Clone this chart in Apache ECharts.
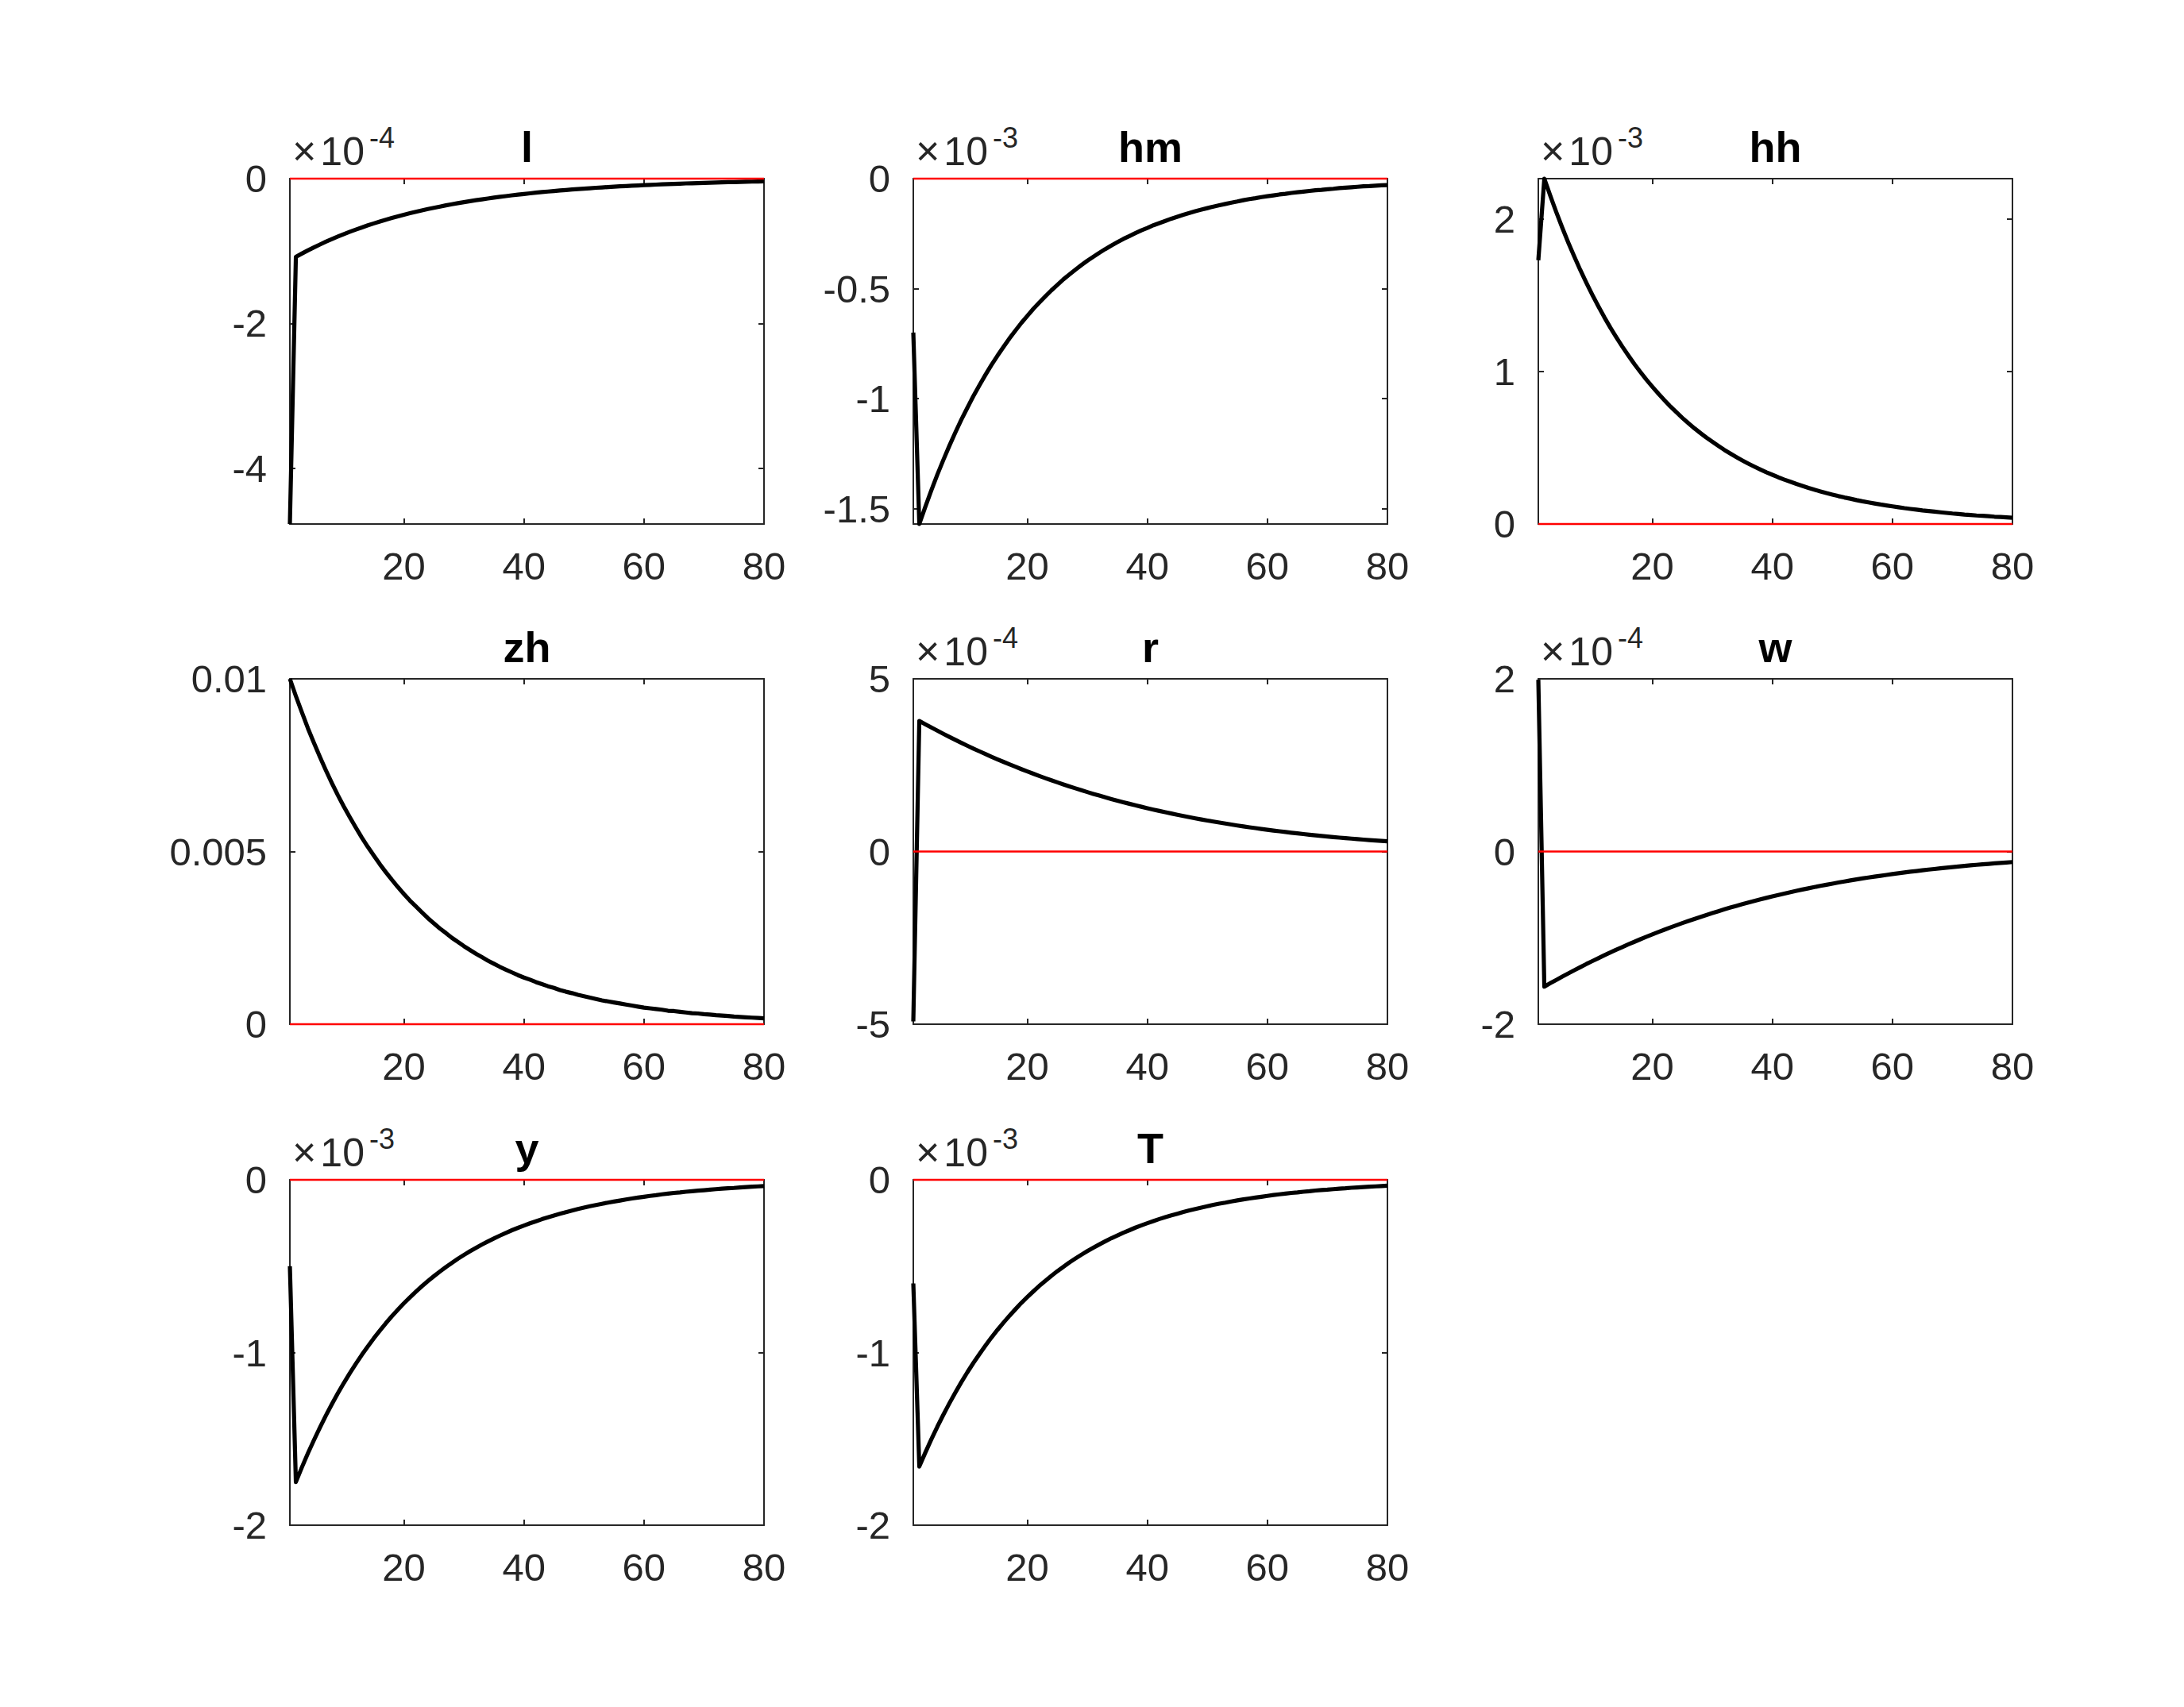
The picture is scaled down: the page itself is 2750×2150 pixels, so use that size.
<!DOCTYPE html>
<html><head><meta charset="utf-8">
<script src="https://cdn.jsdelivr.net/npm/echarts@6/dist/echarts.min.js"></script>
<style>html,body{margin:0;padding:0;background:#fff}#c{width:2750px;height:2150px}</style>
</head><body><div id="c"></div>
<script>
// periods 1..80
const periods = Array.from({length: 80}, (_, i) => i + 1);
const titles = ['l', 'hm', 'hh', 'zh', 'r', 'w', 'y', 'T'];
const exponents = ['-4', '-3', '-3', '', '-4', '-4', '-3', '-3'];

// values in the panel's displayed units (×10^exponent)
const l_irf = [-4.77,
-1.080,-1.035,-0.991,-0.950,-0.910,-0.871,-0.835,-0.800,-0.766,-0.734,
-0.703,-0.674,-0.645,-0.618,-0.592,-0.567,-0.544,-0.521,-0.499,-0.478,
-0.458,-0.439,-0.420,-0.403,-0.386,-0.369,-0.354,-0.339,-0.325,-0.311,
-0.298,-0.286,-0.274,-0.262,-0.251,-0.241,-0.230,-0.221,-0.212,-0.203,
-0.194,-0.186,-0.178,-0.171,-0.163,-0.157,-0.150,-0.144,-0.138,-0.132,
-0.126,-0.121,-0.116,-0.111,-0.106,-0.102,-0.098,-0.094,-0.090,-0.086,
-0.082,-0.079,-0.076,-0.072,-0.069,-0.066,-0.064,-0.061,-0.058,-0.056,
-0.054,-0.051,-0.049,-0.047,-0.045,-0.043,-0.041,-0.040,-0.038];
const hm_irf = [-0.70,
-1.570,-1.492,-1.417,-1.346,-1.279,-1.215,-1.154,-1.096,-1.042,-0.989,
-0.940,-0.893,-0.848,-0.806,-0.766,-0.727,-0.691,-0.656,-0.624,-0.592,
-0.563,-0.535,-0.508,-0.483,-0.458,-0.436,-0.414,-0.393,-0.373,-0.355,
-0.337,-0.320,-0.304,-0.289,-0.274,-0.261,-0.248,-0.235,-0.224,-0.212,
-0.202,-0.192,-0.182,-0.173,-0.164,-0.156,-0.148,-0.141,-0.134,-0.127,
-0.121,-0.115,-0.109,-0.104,-0.098,-0.093,-0.089,-0.084,-0.080,-0.076,
-0.072,-0.069,-0.065,-0.062,-0.059,-0.056,-0.053,-0.051,-0.048,-0.046,
-0.043,-0.041,-0.039,-0.037,-0.035,-0.034,-0.032,-0.030,-0.029];
const hh_irf = [1.73,
2.265,2.152,2.044,1.942,1.845,1.753,1.665,1.582,1.503,1.428,
1.356,1.288,1.224,1.163,1.105,1.049,0.997,0.947,0.900,0.855,
0.812,0.771,0.733,0.696,0.661,0.628,0.597,0.567,0.539,0.512,
0.486,0.462,0.439,0.417,0.396,0.376,0.357,0.339,0.323,0.306,
0.291,0.277,0.263,0.250,0.237,0.225,0.214,0.203,0.193,0.183,
0.174,0.166,0.157,0.149,0.142,0.135,0.128,0.122,0.116,0.110,
0.104,0.099,0.094,0.089,0.085,0.081,0.077,0.073,0.069,0.066,
0.062,0.059,0.056,0.054,0.051,0.048,0.046,0.044,0.041];
const zh_irf = [
0.01000,0.00950,0.00903,0.00857,0.00815,0.00774,0.00735,0.00698,0.00663,0.00630,
0.00599,0.00569,0.00540,0.00513,0.00488,0.00463,0.00440,0.00418,0.00397,0.00377,
0.00358,0.00341,0.00324,0.00307,0.00292,0.00277,0.00264,0.00250,0.00238,0.00226,
0.00215,0.00204,0.00194,0.00184,0.00175,0.00166,0.00158,0.00150,0.00142,0.00135,
0.00129,0.00122,0.00116,0.00110,0.00105,0.00099,0.00094,0.00090,0.00085,0.00081,
0.00077,0.00073,0.00069,0.00066,0.00063,0.00060,0.00057,0.00054,0.00051,0.00048,
0.00046,0.00044,0.00042,0.00039,0.00038,0.00036,0.00034,0.00032,0.00031,0.00029,
0.00028,0.00026,0.00025,0.00024,0.00022,0.00021,0.00020,0.00019,0.00018,0.00017];
const r_irf = [-4.92,
3.780,3.684,3.591,3.499,3.408,3.320,3.233,3.148,3.064,2.982,
2.902,2.824,2.747,2.671,2.598,2.525,2.455,2.386,2.318,2.252,
2.187,2.124,2.062,2.002,1.943,1.886,1.830,1.775,1.721,1.669,
1.618,1.569,1.520,1.473,1.427,1.382,1.339,1.296,1.255,1.214,
1.175,1.137,1.100,1.064,1.029,0.995,0.961,0.929,0.898,0.867,
0.838,0.809,0.781,0.754,0.728,0.702,0.678,0.654,0.631,0.608,
0.586,0.565,0.545,0.525,0.506,0.487,0.469,0.452,0.435,0.418,
0.403,0.387,0.373,0.359,0.345,0.331,0.319,0.306,0.294];
const w_irf = [1.99,
-1.565,-1.525,-1.487,-1.449,-1.411,-1.375,-1.339,-1.303,-1.269,-1.235,
-1.202,-1.169,-1.137,-1.106,-1.075,-1.046,-1.016,-0.988,-0.960,-0.932,
-0.906,-0.879,-0.854,-0.829,-0.805,-0.781,-0.758,-0.735,-0.713,-0.691,
-0.670,-0.649,-0.629,-0.610,-0.591,-0.572,-0.554,-0.537,-0.520,-0.503,
-0.487,-0.471,-0.455,-0.440,-0.426,-0.412,-0.398,-0.385,-0.372,-0.359,
-0.347,-0.335,-0.323,-0.312,-0.301,-0.291,-0.281,-0.271,-0.261,-0.252,
-0.243,-0.234,-0.226,-0.217,-0.209,-0.202,-0.194,-0.187,-0.180,-0.173,
-0.167,-0.160,-0.154,-0.148,-0.143,-0.137,-0.132,-0.127,-0.122];
const y_irf = [-0.50,
-1.750,-1.665,-1.584,-1.508,-1.435,-1.365,-1.299,-1.236,-1.176,-1.119,
-1.065,-1.013,-0.964,-0.917,-0.873,-0.830,-0.790,-0.752,-0.715,-0.681,
-0.648,-0.616,-0.586,-0.558,-0.531,-0.505,-0.481,-0.457,-0.435,-0.414,
-0.394,-0.375,-0.357,-0.340,-0.323,-0.307,-0.292,-0.278,-0.265,-0.252,
-0.240,-0.228,-0.217,-0.207,-0.197,-0.187,-0.178,-0.169,-0.161,-0.153,
-0.146,-0.139,-0.132,-0.126,-0.120,-0.114,-0.108,-0.103,-0.098,-0.093,
-0.089,-0.084,-0.080,-0.076,-0.073,-0.069,-0.066,-0.063,-0.060,-0.057,
-0.054,-0.051,-0.049,-0.047,-0.044,-0.042,-0.040,-0.038,-0.036];
const T_irf = [-0.60,
-1.660,-1.580,-1.503,-1.430,-1.361,-1.295,-1.232,-1.172,-1.115,-1.061,
-1.010,-0.961,-0.914,-0.870,-0.828,-0.788,-0.750,-0.713,-0.679,-0.646,
-0.614,-0.585,-0.556,-0.529,-0.504,-0.479,-0.456,-0.434,-0.413,-0.393,
-0.374,-0.356,-0.338,-0.322,-0.306,-0.292,-0.277,-0.264,-0.251,-0.239,
-0.227,-0.216,-0.206,-0.196,-0.186,-0.177,-0.169,-0.161,-0.153,-0.145,
-0.138,-0.132,-0.125,-0.119,-0.113,-0.108,-0.103,-0.098,-0.093,-0.088,
-0.084,-0.080,-0.076,-0.073,-0.069,-0.066,-0.062,-0.059,-0.057,-0.054,
-0.051,-0.049,-0.046,-0.044,-0.042,-0.040,-0.038,-0.036,-0.034];
const zeroLine = [0, 0];

const yMin = [-4.77, -1.57, 0, 0, -5, -2, -2, -2];
const yMax = [0, 0, 2.265, 0.01, 5, 2, 0, 0];
const yTicks = [[-4,-2,0],[-1.5,-1,-0.5,0],[0,1,2],[0,0.005,0.01],[-5,0,5],[-2,0,2],[-2,-1,0],[-2,-1,0]];
const yTickLabels = [['-4','-2','0'],['-1.5','-1','-0.5','0'],['0','1','2'],['0','0.005','0.01'],['-5','0','5'],['-2','0','2'],['-2','-1','0'],['-2','-1','0']];
const xTicks = [20, 40, 60, 80];
const xTickLabels = ['20', '40', '60', '80'];

const allSeries = [l_irf, hm_irf, hh_irf, zh_irf, r_irf, w_irf, y_irf, T_irf];

// layout
const colLeft = [365, 1150, 1937];
const rowTop = [225, 855, 1486];
const W = 597, H = 435;
const FONT = 'Liberation Sans';
const AX = '#262626';

const grid = [], xAxis = [], yAxis = [], series = [], title = [];
allSeries.forEach((vals, i) => {
  const r = Math.floor(i / 3), c = i % 3;
  grid.push({left: colLeft[c], top: rowTop[r], width: W, height: H, show: false, containLabel: false});
  const lineStyle = {color: AX, width: 2};
  const tickStyle = {color: AX, width: 2};
  xAxis.push({type: 'value', gridIndex: i, min: 1, max: 80, position: 'bottom',
    axisLine: {show: true, onZero: false, lineStyle},
    axisTick: {show: true, inside: true, length: 7, customValues: xTicks, lineStyle: tickStyle},
    axisLabel: {show: true, customValues: xTicks, margin: 28, fontSize: 49, fontFamily: FONT, color: AX,
      formatter: v => xTickLabels[xTicks.indexOf(v)]},
    splitLine: {show: false}});
  xAxis.push({type: 'value', gridIndex: i, min: 1, max: 80, position: 'top',
    axisLine: {show: true, onZero: false, lineStyle},
    axisTick: {show: true, inside: true, length: 7, customValues: xTicks, lineStyle: tickStyle},
    axisLabel: {show: false}, splitLine: {show: false}});
  const tv = yTicks[i], tl = yTickLabels[i];
  const fmt = v => { const k = tv.findIndex(t => Math.abs(t - v) < 1e-9); return k >= 0 ? tl[k] : ''; };
  const yLeft = {type: 'value', gridIndex: i, min: yMin[i], max: yMax[i], position: 'left',
    axisLine: {show: true, onZero: false, lineStyle},
    axisTick: {show: true, inside: true, length: 7, customValues: tv, lineStyle: tickStyle},
    axisLabel: {show: true, customValues: tv, margin: 29, fontSize: 49, fontFamily: FONT, color: AX, formatter: fmt},
    splitLine: {show: false}};
  if (exponents[i]) {
    yLeft.name = '{x|×}{a|10}{b|' + exponents[i] + '}';
    yLeft.nameLocation = 'end';
    yLeft.nameGap = 9;
    yLeft.nameTextStyle = {align: 'left', verticalAlign: 'bottom', padding: [0, 0, 0, 3],
      rich: {
        x: {fontSize: 52, fontFamily: FONT, color: AX, lineHeight: 61, verticalAlign: 'bottom', padding: [0, 5, 0, 0]},
        a: {fontSize: 50, fontFamily: FONT, color: AX, lineHeight: 61, verticalAlign: 'bottom'},
        b: {fontSize: 36, fontFamily: FONT, color: AX, lineHeight: 34, verticalAlign: 'top', padding: [0, 0, 0, 6]}
      }};
  }
  yAxis.push(yLeft);
  yAxis.push({type: 'value', gridIndex: i, min: yMin[i], max: yMax[i], position: 'right',
    axisLine: {show: true, onZero: false, lineStyle},
    axisTick: {show: true, inside: true, length: 7, customValues: tv, lineStyle: tickStyle},
    axisLabel: {show: false}, splitLine: {show: false}});
  series.push({type: 'line', xAxisIndex: 2 * i, yAxisIndex: 2 * i,
    data: periods.map((t, k) => [t, vals[k]]),
    showSymbol: false, symbol: 'none', clip: false, z: 3,
    lineStyle: {color: '#000', width: 5.2, join: 'round'}, silent: true});
  series.push({type: 'line', xAxisIndex: 2 * i, yAxisIndex: 2 * i,
    data: [[periods[0], zeroLine[0]], [periods[periods.length - 1], zeroLine[1]]],
    showSymbol: false, symbol: 'none', clip: false, z: 4,
    lineStyle: {color: '#ff0000', width: 2.6}, silent: true});
  title.push({text: titles[i], left: colLeft[c] + W / 2, top: rowTop[r] - 67, textAlign: 'center', padding: 0,
    textStyle: {fontFamily: FONT, fontSize: 54, fontWeight: 'bold', color: '#000'}});
});

const chart = echarts.init(document.getElementById('c'), null, {renderer: 'svg', width: 2750, height: 2150});
chart.setOption({animation: false, backgroundColor: '#fff', title, grid, xAxis, yAxis, series});
</script>
</body></html>
